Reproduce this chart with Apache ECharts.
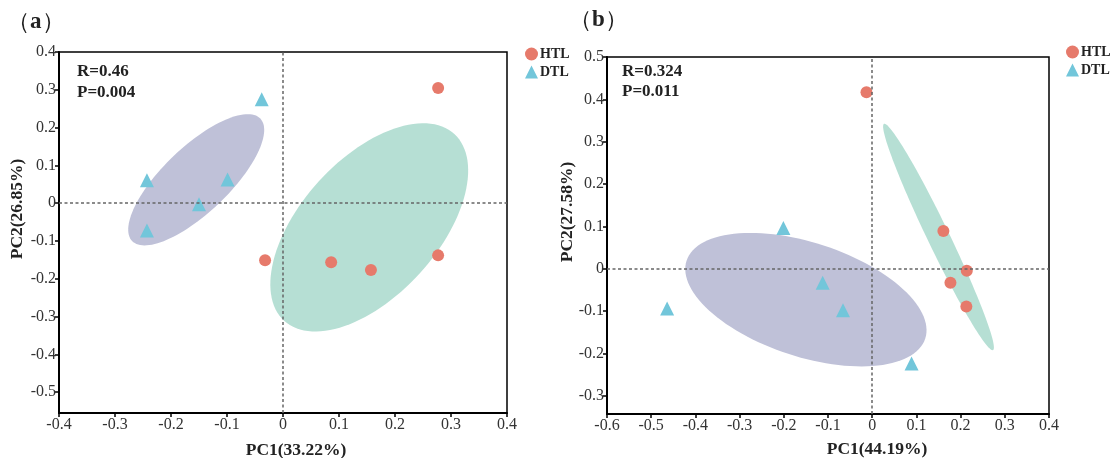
<!DOCTYPE html>
<html>
<head>
<meta charset="utf-8">
<script src="https://cdn.jsdelivr.net/npm/echarts@6/dist/echarts.min.js"></script>
<style>
  html, body { margin: 0; padding: 0; background: #fff; }
  #chart { width: 1113px; height: 458px; }
</style>
</head>
<body>
<div id="chart"></div>
<script>
// panel (a)
var htlA = [[0.277, 0.305], [-0.032, -0.151], [0.086, -0.156], [0.157, -0.177], [0.277, -0.138]];
var dtlA = [[-0.038, 0.275], [-0.243, 0.061], [-0.099, 0.063], [-0.150, -0.003], [-0.243, -0.072]];
// ellipse: centre x, centre y, major half-axis (dx, dy), minor half-axis (dx, dy)
var ellipseHtlA = [0.154, -0.064, 0.152, 0.247, 0.090, -0.122];
var ellipseDtlA = [-0.155, 0.062, 0.1145, 0.1619, 0.0404, -0.0628];
var statsA = ['R=0.46', 'P=0.004'];

// panel (b)
var htlB = [[-0.013, 0.417], [0.161, 0.089], [0.214, -0.005], [0.177, -0.033], [0.213, -0.089]];
var dtlB = [[-0.201, 0.096], [-0.464, -0.094], [-0.112, -0.033], [-0.066, -0.098], [0.089, -0.224]];
var ellipseHtlB = [0.150, 0.075, 0.1233, -0.2671, 0.0224, 0.0113];
var ellipseDtlB = [-0.150, -0.073, 0.270, -0.092, -0.040, -0.128];
var statsB = ['R=0.324', 'P=0.011'];

var xNames = ['PC1(33.22%)', 'PC1(44.19%)'];
var yNames = ['PC2(26.85%)', 'PC2(27.58%)'];

var RED = '#E67A6B', BLUE = '#72C6DA';
var GREEN_FILL = '#B6DFD4', PURPLE_FILL = '#BFC1D8';
var serif = '"Liberation Serif", "Times New Roman", serif';

var chart = echarts.init(document.getElementById('chart'));

function ellipse(params, color, idx) {
  return {
    type: 'custom',
    name: 'ell',
    xAxisIndex: idx,
    yAxisIndex: idx,
    silent: true,
    z: 1,
    data: [params],
    encode: { x: 0, y: 1 },
    renderItem: function (p, api) {
      var pts = [];
      for (var i = 0; i < 120; i++) {
        var t = i / 120 * Math.PI * 2;
        pts.push(api.coord([
          api.value(0) + api.value(2) * Math.cos(t) + api.value(4) * Math.sin(t),
          api.value(1) + api.value(3) * Math.cos(t) + api.value(5) * Math.sin(t)
        ]));
      }
      return { type: 'polygon', shape: { points: pts }, style: { fill: color } };
    }
  };
}

function xAxis(idx, min) {
  return {
    type: 'value', gridIndex: idx, min: min, max: 0.4, interval: 0.1,
    axisLine: { onZero: false, lineStyle: { color: '#000', width: 2 } },
    axisTick: { length: 4, lineStyle: { color: '#000', width: 1.5 } },
    axisLabel: { fontFamily: serif, fontSize: 16, color: '#333', margin: 4 },
    splitLine: { show: false }
  };
}

function yAxis(idx, min, max) {
  return {
    type: 'value', gridIndex: idx, min: min, max: max, splitNumber: 10,
    axisLine: { onZero: false, lineStyle: { color: '#000', width: 2 } },
    axisTick: { length: 4, lineStyle: { color: '#000', width: 1.5 } },
    axisLabel: {
      fontFamily: serif, fontSize: 16, color: '#333', margin: 3, showMinLabel: false,
      formatter: function (v) {
        var r = Math.round(v * 10) / 10;
        if (Math.abs(v - r) > 1e-6) return '';
        return String(r);
      }
    },
    splitLine: { show: false }
  };
}

function zeroLines() {
  return {
    symbol: 'none', silent: true, label: { show: false },
    lineStyle: { color: '#666', type: [3, 2.5], width: 1.5 },
    data: [{ xAxis: 0 }, { yAxis: 0 }]
  };
}

function scatter(name, data, idx, isHtl) {
  var s = {
    type: 'scatter', name: name, xAxisIndex: idx, yAxisIndex: idx, z: 3,
    data: data,
    symbol: isHtl ? 'circle' : 'triangle',
    symbolSize: isHtl ? 12 : 14,
    itemStyle: { color: isHtl ? RED : BLUE, opacity: 1 }
  };
  if (isHtl) s.markLine = zeroLines();
  return s;
}

function legend(left, top) {
  return {
    left: left, top: top, orient: 'vertical',
    itemWidth: 13, itemHeight: 13, itemGap: 4,
    textStyle: { fontFamily: serif, fontWeight: 'bold', fontSize: 14, color: '#222', padding: [0, 0, 0, -3] },
    data: [{ name: 'HTL', icon: 'circle' }, { name: 'DTL', icon: 'triangle' }]
  };
}

var nameFont = 'bold 17.5px ' + serif;

chart.setOption({
  animation: false,
  title: [
    { text: '（{b|a}）', left: 2, top: 6, textStyle: { fontFamily: serif, fontSize: 23, fontWeight: 'normal', color: '#222', rich: { b: { fontFamily: serif, fontSize: 23, fontWeight: 'bold', color: '#222' } } } },
    { text: '（{b|b}）', left: 564, top: 4, textStyle: { fontFamily: serif, fontSize: 23, fontWeight: 'normal', color: '#222', rich: { b: { fontFamily: serif, fontSize: 23, fontWeight: 'bold', color: '#222' } } } }
  ],
  legend: [legend(520, 42), legend(1061, 40)],
  graphic: [
    { type: 'text', left: 77, top: 61, style: { text: statsA.join('\n'), font: 'bold 17px ' + serif, fill: '#222', lineHeight: 21 } },
    { type: 'text', left: 622, top: 62, style: { text: statsB.join('\n'), font: 'bold 17px ' + serif, fill: '#222', lineHeight: 20 } },
    { type: 'text', x: 296, y: 450, style: { text: xNames[0], font: nameFont, fill: '#222', align: 'center', verticalAlign: 'middle' } },
    { type: 'text', x: 877, y: 449, style: { text: xNames[1], font: nameFont, fill: '#222', align: 'center', verticalAlign: 'middle' } },
    { type: 'text', x: 17, y: 209, rotation: Math.PI / 2, style: { text: yNames[0], font: nameFont, fill: '#222', align: 'center', verticalAlign: 'middle' } },
    { type: 'text', x: 567, y: 212, rotation: Math.PI / 2, style: { text: yNames[1], font: nameFont, fill: '#222', align: 'center', verticalAlign: 'middle' } }
  ],
  grid: [
    { left: 59, top: 52, width: 448, height: 361, show: true, borderColor: '#000', borderWidth: 1.5, backgroundColor: 'transparent' },
    { left: 607, top: 57, width: 442, height: 357, show: true, borderColor: '#000', borderWidth: 1.5, backgroundColor: 'transparent' }
  ],
  xAxis: [xAxis(0, -0.4), xAxis(1, -0.6)],
  yAxis: [yAxis(0, -0.555, 0.4), yAxis(1, -0.343, 0.5)],
  series: [
    ellipse(ellipseHtlA, GREEN_FILL, 0),
    ellipse(ellipseDtlA, PURPLE_FILL, 0),
    scatter('HTL', htlA, 0, true),
    scatter('DTL', dtlA, 0, false),
    ellipse(ellipseHtlB, GREEN_FILL, 1),
    ellipse(ellipseDtlB, PURPLE_FILL, 1),
    scatter('HTL', htlB, 1, true),
    scatter('DTL', dtlB, 1, false)
  ]
});
</script>
</body>
</html>
